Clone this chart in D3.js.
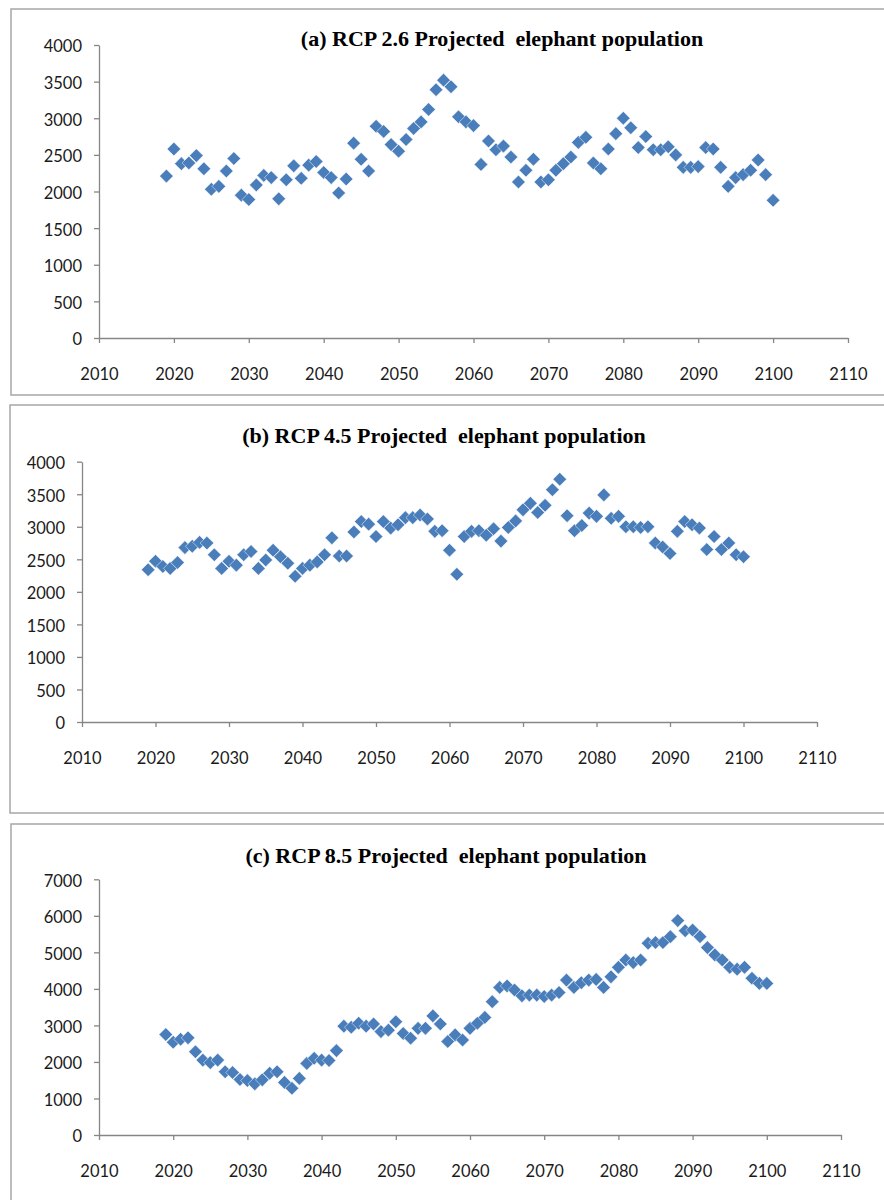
<!DOCTYPE html>
<html>
<head>
<meta charset="utf-8">
<script src="https://cdn.jsdelivr.net/npm/d3@7"></script>
<style>
  html, body { margin: 0; padding: 0; background: #fff; }
  svg { display: block; }
</style>
</head>
<body>
<svg id="chart" width="884" height="1200"></svg>
<script>
// ---- Data ----
const years = [2019,2020,2021,2022,2023,2024,2025,2026,2027,2028,2029,2030,2031,2032,2033,2034,2035,2036,2037,2038,2039,2040,
  2041,2042,2043,2044,2045,2046,2047,2048,2049,2050,2051,2052,2053,2054,2055,2056,2057,2058,2059,2060,
  2061,2062,2063,2064,2065,2066,2067,2068,2069,2070,2071,2072,2073,2074,2075,2076,2077,2078,2079,2080,
  2081,2082,2083,2084,2085,2086,2087,2088,2089,2090,2091,2092,2093,2094,2095,2096,2097,2098,2099,2100];

const rcp26 = [2210,2580,2380,2390,2490,2310,2030,2070,2280,2450,1950,1890,2090,2220,2190,1900,2160,2350,2180,2360,2410,2260,
  2190,1980,2170,2660,2440,2280,2890,2820,2640,2550,2710,2860,2950,3120,3390,3520,3430,3020,2950,2900,
  2370,2690,2570,2620,2470,2130,2290,2440,2130,2160,2290,2380,2470,2670,2740,2390,2310,2580,2790,3000,
  2870,2600,2750,2570,2570,2610,2500,2330,2330,2340,2600,2580,2330,2070,2190,2230,2290,2430,2230,1880];

const rcp45 = [2340,2470,2390,2360,2450,2680,2700,2760,2750,2570,2360,2470,2410,2570,2620,2360,2490,2640,2540,2440,2240,2360,
  2410,2460,2570,2830,2550,2550,2920,3080,3040,2850,3080,2980,3030,3140,3140,3180,3120,2930,2940,2640,
  2270,2850,2930,2940,2870,2970,2780,2990,3090,3260,3360,3220,3330,3570,3730,3170,2940,3020,3210,3160,
  3490,3130,3160,3000,3000,2990,3000,2750,2690,2590,2930,3080,3030,2980,2650,2850,2650,2750,2570,2540];

const rcp85 = [2750,2540,2620,2660,2280,2050,1980,2050,1730,1710,1520,1490,1400,1510,1690,1730,1440,1280,1550,1960,2100,2050,
  2040,2310,2980,2950,3060,2980,3040,2830,2870,3100,2780,2650,2920,2920,3260,3040,2560,2740,2600,2920,
  3060,3220,3650,4040,4080,3970,3810,3830,3830,3790,3830,3900,4240,4040,4170,4240,4260,4040,4330,4590,
  4790,4720,4790,5250,5270,5270,5430,5870,5590,5610,5430,5130,4930,4790,4590,4540,4590,4290,4150,4150];

const xTicks = [2010,2020,2030,2040,2050,2060,2070,2080,2090,2100,2110];
const yTicksA = [0,500,1000,1500,2000,2500,3000,3500,4000];
const yTicksC = [0,1000,2000,3000,4000,5000,6000,7000];

const titles = [
  "(a) RCP 2.6 Projected  elephant population",
  "(b) RCP 4.5 Projected  elephant population",
  "(c) RCP 8.5 Projected  elephant population"
];

// ---- Layout (pixel geometry) ----
const panels = [
  { values: rcp26, yMax: 4000, yTicks: yTicksA, title: titles[0],
    frame: {x: 11, y: 9, h: 386}, xr: [99, 848], yr: [338, 45], titleX: 502, titleY: 46 },
  { values: rcp45, yMax: 4000, yTicks: yTicksA, title: titles[1],
    frame: {x: 10, y: 405, h: 408}, xr: [82, 817], yr: [722, 461.7], titleX: 444, titleY: 443 },
  { values: rcp85, yMax: 7000, yTicks: yTicksC, title: titles[2],
    frame: {x: 11, y: 824, h: 420}, xr: [99, 841], yr: [1135, 879.3], titleX: 446, titleY: 863 }
];

const svg = d3.select("#chart");
const axisColor = "#868686";
const markerColor = "#4a7ebb";
const r = 6.8;
const diamond = `M0,${-r}L${r},0L0,${r}L${-r},0Z`;

panels.forEach(p => {
  const g = svg.append("g");

  g.append("rect")
    .attr("x", p.frame.x).attr("y", p.frame.y)
    .attr("width", 900).attr("height", p.frame.h)
    .attr("fill", "none").attr("stroke", "#a6a6a6").attr("stroke-width", 1.5);

  const x = d3.scaleLinear().domain([2010, 2110]).range(p.xr);
  const y = d3.scaleLinear().domain([0, p.yMax]).range(p.yr);

  // title
  g.append("text")
    .attr("x", p.titleX).attr("y", p.titleY)
    .attr("text-anchor", "middle")
    .attr("font-family", "'Liberation Serif', 'Times New Roman', serif")
    .attr("font-weight", "bold")
    .attr("font-size", 22)
    .attr("fill", "#000")
    .style("white-space", "pre")
    .text(p.title);

  // x axis
  const xa = g.append("g")
    .attr("transform", `translate(0,${p.yr[0]})`)
    .call(d3.axisBottom(x).tickValues(xTicks).tickFormat(d3.format("d")).tickSize(5).tickSizeOuter(0));
  xa.selectAll("text").attr("y", 42).attr("dy", 0);

  // y axis
  const ya = g.append("g")
    .attr("transform", `translate(${p.xr[0]},0)`)
    .call(d3.axisLeft(y).tickValues(p.yTicks).tickFormat(d3.format("d")).tickSize(5).tickSizeOuter(0).tickPadding(12));
  ya.selectAll("text").attr("dy", "0.42em");

  [xa, ya].forEach(a => {
    a.select(".domain").attr("stroke", axisColor).attr("stroke-width", 1.3);
    a.selectAll(".tick line").attr("stroke", axisColor).attr("stroke-width", 1.3);
    a.selectAll("text")
      .attr("font-family", "Lato, 'Open Sans', sans-serif")
      .attr("font-size", 16.5)
      .attr("fill", "#1a1a1a");
  });

  // markers
  g.append("g").selectAll("path")
    .data(years.map((yr, i) => ({ yr, v: p.values[i] })))
    .join("path")
    .attr("d", diamond)
    .attr("transform", d => `translate(${x(d.yr)},${y(d.v)})`)
    .attr("fill", markerColor)
    .attr("stroke", "rgba(255,255,255,0.7)")
    .attr("stroke-width", 0.7);
});
</script>
</body>
</html>
